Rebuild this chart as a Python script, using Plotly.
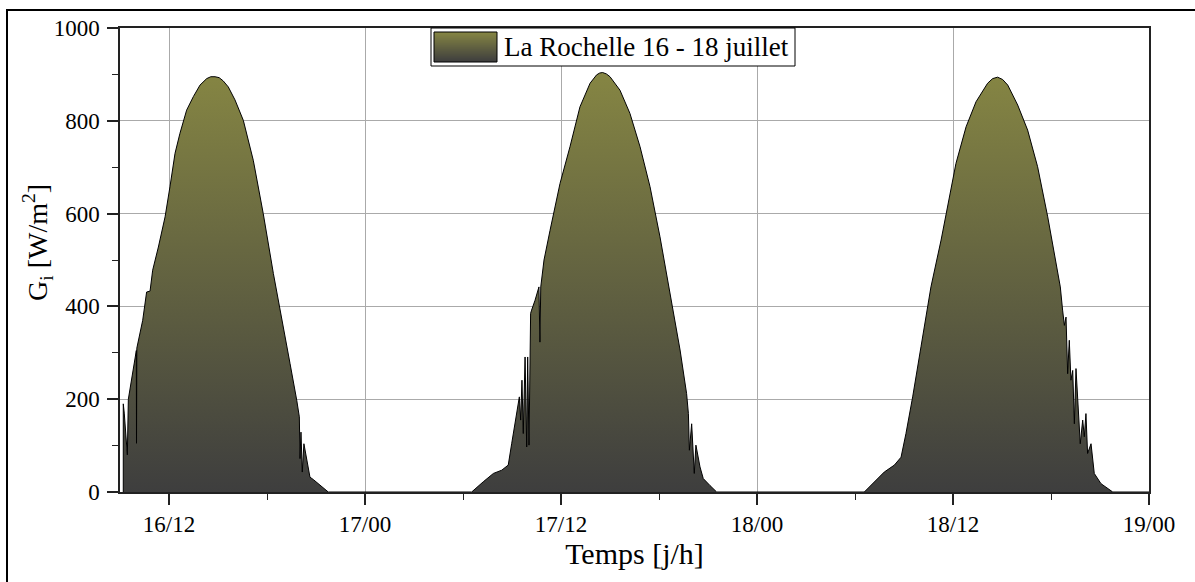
import plotly.graph_objects as go

# ---- data (hours counted from 16 July 00:00) ----
t_day16 = [9.20, 9.20, 9.26, 9.45, 9.51, 10.00, 10.01, 10.03, 10.39, 10.63, 10.84, 11.00, 11.35, 11.76,
           12.06, 12.37, 12.67, 13.08, 13.49, 13.90, 14.31, 14.56, 14.82, 15.07, 15.32, 15.63, 16.04, 16.55,
           17.16, 17.77, 18.39, 18.90, 19.41, 19.82, 19.98, 20.02, 20.08, 20.16, 20.26, 20.63, 20.83, 21.75]
g_day16 = [0, 190, 170, 80, 200, 305, 105, 310, 370, 431, 433, 478, 528, 593,
           658, 730, 773, 823, 852, 877, 891, 895, 895, 893, 886, 873, 845, 801,
           715, 600, 471, 370, 277, 198, 162, 72, 129, 43, 104, 32, 27, 0]

t_day17 = [30.53, 31.24, 31.86, 32.37, 32.77, 32.98, 33.29, 33.45, 33.53, 33.61, 33.69, 33.80, 33.90,
           33.96, 34.04, 34.14, 34.20, 34.41, 34.65, 34.71, 34.76, 34.96, 35.33, 35.94, 36.55, 37.16,
           37.78, 38.18, 38.37, 38.55, 38.78, 39.00, 39.61, 40.22, 40.84, 41.45, 42.06, 42.67, 43.29, 43.69,
           43.80, 43.86, 44.00, 44.16, 44.26, 44.51, 44.71, 45.12, 45.53]
g_day17 = [0, 22, 40, 47, 58, 104, 176, 205, 155, 241, 126, 291, 97,
           291, 101, 385, 392, 413, 442, 323, 442, 500, 564, 665, 744, 830,
           881, 899, 903, 904, 901, 895, 866, 816, 744, 658, 550, 428, 306, 212,
           169, 90, 147, 40, 101, 54, 29, 14, 0]

t_day18 = [54.57, 55.18, 55.79, 56.41, 56.82, 57.12, 57.53, 58.04, 58.65, 59.27, 59.67, 60.18, 60.80,
           61.41, 62.12, 62.43, 62.73, 63.04, 63.35, 63.96, 64.57, 65.18, 65.80, 66.31, 66.57, 66.71, 66.82,
           66.92, 67.02, 67.12, 67.22, 67.33, 67.43, 67.53, 67.67, 67.79, 67.94, 68.04, 68.14, 68.24,
           68.45, 68.65, 69.06, 69.78, 72.00]
g_day18 = [0, 22, 43, 58, 75, 126, 205, 313, 442, 543, 615, 708, 787,
           841, 881, 891, 894, 889, 877, 834, 780, 701, 593, 492, 442, 392, 359,
           377, 255, 327, 241, 262, 147, 266, 191, 104, 155, 119, 169, 83,
           104, 40, 18, 0, 0]

tick_hours = [12, 24, 36, 48, 60, 72]
tick_labels = ["16/12", "17/00", "17/12", "18/00", "18/12", "19/00"]
y_ticks = [0, 200, 400, 600, 800, 1000]
legend_label = "La Rochelle 16 - 18 juillet"
x_title = "Temps [j/h]"
y_title = "G<sub>i</sub> [W/m<sup>2</sup>]"

t_all = t_day16 + t_day17 + t_day18
g_all = g_day16 + g_day17 + g_day18

FONT = "Liberation Serif"
W, H = 1195, 582
ML, MR, MT, MB = 120, 46, 28, 90
PW, PH = W - ML - MR, H - MT - MB

def px(x):
    return (x - ML) / PW

def py(y):
    return (H - MB - y) / PH

fig = go.Figure()
fig.add_trace(go.Scatter(
    x=t_all, y=g_all, mode="lines", fill="tozeroy",
    line=dict(color="black", width=1),
    fillgradient=dict(type="vertical",
                      colorscale=[[0, "#3e3e3e"], [1, "#858543"]],
                      start=0, stop=900),
    showlegend=False, hoverinfo="skip",
))

shapes = []
# outer frame (top and left edges visible)
shapes.append(dict(type="line", xref="paper", yref="paper", x0=px(7), x1=px(1200), y0=py(10), y1=py(10),
                   line=dict(color="black", width=2)))
shapes.append(dict(type="line", xref="paper", yref="paper", x0=px(7), x1=px(7), y0=py(9), y1=py(590),
                   line=dict(color="black", width=2)))
# custom legend box
shapes.append(dict(type="rect", xref="paper", yref="paper", x0=px(431), x1=px(795), y0=py(28), y1=py(66),
                   fillcolor="white", line=dict(color="black", width=1), layer="above"))
# gradient swatch made of thin strips
top, bot = 32, 62
n = bot - top
c_top = (0x85, 0x85, 0x43)
c_bot = (0x3e, 0x3e, 0x3e)
for i in range(n):
    f = i / (n - 1)
    c = tuple(int(round(c_top[k] + (c_bot[k] - c_top[k]) * f)) for k in range(3))
    shapes.append(dict(type="rect", xref="paper", yref="paper", x0=px(434), x1=px(497),
                       y0=py(top + i), y1=py(top + i + 1), fillcolor="rgb(%d,%d,%d)" % c,
                       line=dict(width=0), layer="above"))
shapes.append(dict(type="rect", xref="paper", yref="paper", x0=px(434), x1=px(497), y0=py(top), y1=py(bot),
                   line=dict(color="black", width=1), layer="above"))

annotations = [
    dict(text=legend_label, xref="paper", yref="paper", x=px(502), y=py(47),
         xanchor="left", yanchor="middle", showarrow=False,
         font=dict(family=FONT, size=27, color="black")),
    dict(text=y_title, xref="paper", yref="paper", x=px(37), y=py(243), textangle=-90,
         xanchor="center", yanchor="middle", showarrow=False,
         font=dict(family=FONT, size=28, color="black")),
]

fig.update_layout(
    width=W, height=H,
    margin=dict(l=ML, r=MR, t=MT, b=MB),
    paper_bgcolor="white", plot_bgcolor="white",
    font=dict(family=FONT, color="black", size=23),
    shapes=shapes, annotations=annotations,
    showlegend=False,
)
fig.update_xaxes(
    range=[9, 72], tickmode="array", tickvals=tick_hours, ticktext=tick_labels,
    ticks="outside", ticklen=11, tickwidth=1.5, tickcolor="#222",
    minor=dict(dtick=6, tick0=0, ticks="outside", ticklen=6, tickwidth=1.2, tickcolor="#222", showgrid=False),
    showline=True, linecolor="#222", linewidth=1.5, mirror=True,
    showgrid=True, gridcolor="#aaaaaa", gridwidth=1, zeroline=False,
    tickfont=dict(family=FONT, size=23, color="black"),
    title=dict(text=x_title, font=dict(family=FONT, size=30, color="black"), standoff=6),
)
fig.update_yaxes(
    range=[0, 1000], tickmode="array", tickvals=y_ticks,
    ticks="outside", ticklen=11, tickwidth=1.5, tickcolor="#222",
    minor=dict(dtick=100, tick0=0, ticks="outside", ticklen=6, tickwidth=1.2, tickcolor="#222", showgrid=False),
    showline=True, linecolor="#222", linewidth=1.5, mirror=True,
    showgrid=True, gridcolor="#aaaaaa", gridwidth=1, zeroline=False,
    tickfont=dict(family=FONT, size=23, color="black"),
    ticklabelstandoff=3,
)

fig.write_html("out.html", config={"displayModeBar": False},
               post_script="document.body.style.margin='0';")
